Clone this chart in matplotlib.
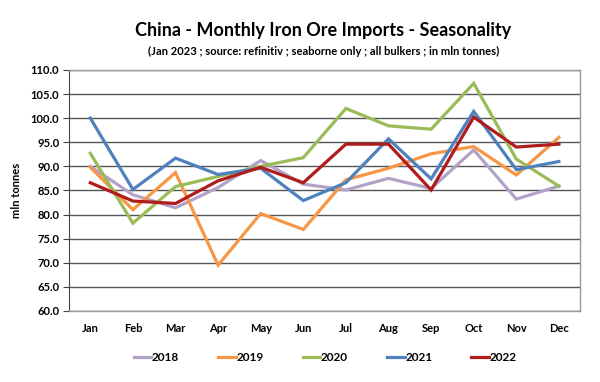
import matplotlib
matplotlib.use("Agg")
import matplotlib.pyplot as plt

# Data
months = ["Jan", "Feb", "Mar", "Apr", "May", "Jun",
          "Jul", "Aug", "Sep", "Oct", "Nov", "Dec"]
y2018 = [90.0, 84.1, 81.4, 85.6, 91.2, 86.3, 85.1, 87.5, 85.4, 93.4, 83.2, 85.9]
y2019 = [89.8, 81.0, 88.7, 69.5, 80.2, 76.9, 87.2, 89.6, 92.6, 94.1, 88.2, 96.0]
y2020 = [92.7, 78.2, 85.8, 87.9, 90.0, 91.8, 102.0, 98.4, 97.7, 107.2, 91.5, 85.9]
y2021 = [100.0, 85.2, 91.7, 88.3, 89.6, 82.9, 86.6, 95.7, 87.4, 101.4, 89.3, 91.0]
y2022 = [86.6, 82.8, 82.3, 87.0, 89.8, 86.6, 94.6, 94.6, 85.1, 100.2, 94.0, 94.6]

series = [("2018", y2018, "#B3A2C7"),
          ("2019", y2019, "#F79646"),
          ("2020", y2020, "#9BBB59"),
          ("2021", y2021, "#4F81BD"),
          ("2022", y2022, "#B01C1C")]

plt.rcParams['font.family'] = ['Lato', 'DejaVu Sans']

fig = plt.figure(figsize=(6, 3.82), dpi=100)
ax = fig.add_axes([0.115, 0.186, 0.852, 0.631])

x = list(range(len(months)))
for name, vals, col in series:
    ax.plot(x, vals, color=col, lw=2.3, label=name, solid_joinstyle='miter')

ax.set_xlim(-0.5, 11.5)
ax.set_ylim(60, 110)
ax.set_yticks([60 + 5 * i for i in range(11)])
ax.set_yticklabels([f"{60 + 5 * i:.1f}" for i in range(11)], fontsize=8, fontweight='bold')
ax.set_xticks(x)
ax.set_xticklabels(months, fontsize=8, fontweight='bold')
ax.tick_params(axis='x', length=0, pad=9)
ax.tick_params(axis='y', length=4, direction='out', color='#444444', pad=3)

# gridlines
ax.grid(axis='y', color='#555555', lw=1.0)
ax.set_axisbelow(True)
for s in ['top', 'right', 'bottom']:
    ax.spines[s].set_color('#999999')
    ax.spines[s].set_linewidth(1.0)
ax.spines['left'].set_color('#444444')

ax.set_ylabel("mln tonnes", fontsize=8, fontweight='bold', labelpad=6)

fig.text(0.538, 0.921, "China - Monthly Iron Ore Imports - Seasonality",
         ha='center', va='center', fontsize=13, fontweight='bold')
fig.text(0.54, 0.866, "(Jan 2023 ; source: refinitiv ; seaborne only ; all bulkers ; in mln tonnes)",
         ha='center', va='center', fontsize=8, fontweight='bold')

fig.legend(loc='center', bbox_to_anchor=(0.542, 0.065), ncol=5, frameon=False,
           prop={'weight': 'bold', 'size': 8.5},
           handlelength=1.5, handletextpad=0.05, columnspacing=3.3)

fig.savefig("out.png", dpi=100)
